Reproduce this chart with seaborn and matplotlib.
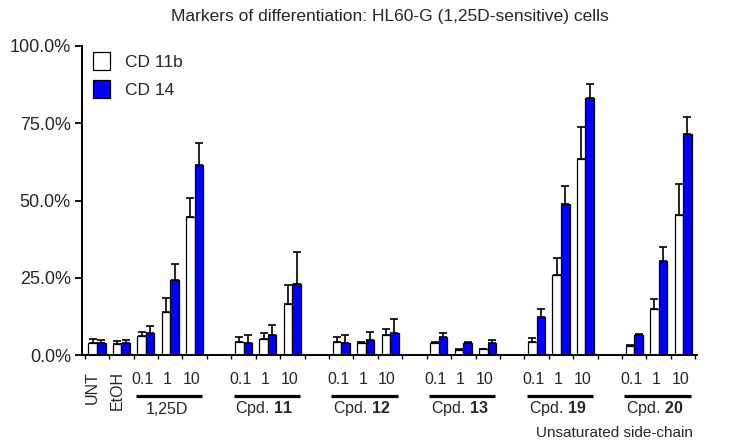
import numpy as np
import pandas as pd
import matplotlib
matplotlib.use("Agg")
import matplotlib.pyplot as plt
import matplotlib.transforms as mtrans
import seaborn as sns

# ---------------- data ----------------
title = "Markers of differentiation: HL60-G (1,25D-sensitive) cells"
slot_order = ["UNT", "EtOH",
              "1,25D 0.1", "1,25D 1", "1,25D 10", "gap1",
              "11 0.1", "11 1", "11 10", "gap2",
              "12 0.1", "12 1", "12 10", "gap3",
              "13 0.1", "13 1", "13 10", "gap4",
              "19 0.1", "19 1", "19 10", "gap5",
              "20 0.1", "20 1", "20 10"]
bar_slots = [s for s in slot_order if not s.startswith("gap")]
slot_labels = ["UNT", "EtOH"] + ["0.1", "1", "10"] * 6
groups = ["1,25D", "11", "12", "13", "19", "20"]
group_slots = [["1,25D 0.1", "1,25D 10"], ["11 0.1", "11 10"], ["12 0.1", "12 10"],
               ["13 0.1", "13 10"], ["19 0.1", "19 10"], ["20 0.1", "20 10"]]
markers = ["CD 11b", "CD 14"]

cd11b = [4.0, 3.5, 6.1, 13.8, 44.8,
         4.2, 5.3, 16.4,
         4.3, 3.8, 6.5,
         3.8, 1.6, 1.8,
         4.3, 25.9, 63.3,
         2.9, 14.8, 45.3]
cd11b_err = [1.3, 0.9, 1.3, 4.5, 5.9,
             1.5, 1.7, 6.3,
             1.4, 0.5, 1.8,
             0.4, 0.3, 0.3,
             1.1, 5.4, 10.4,
             0.3, 3.2, 10.0]
cd14 = [3.8, 4.0, 7.0, 24.3, 61.5,
        3.8, 6.6, 22.9,
        3.8, 4.9, 7.0,
        5.7, 3.8, 3.8,
        12.4, 48.9, 83.1,
        6.5, 30.5, 71.5]
cd14_err = [1.1, 0.8, 2.4, 5.1, 7.2,
            2.8, 3.1, 10.3,
            2.8, 2.5, 4.5,
            1.3, 0.3, 1.1,
            2.4, 5.8, 4.6,
            0.2, 4.5, 5.4]

df = pd.DataFrame({
    "slot": bar_slots * 2,
    "marker": [markers[0]] * len(bar_slots) + [markers[1]] * len(bar_slots),
    "value": cd11b + cd14,
    "err": cd11b_err + cd14_err,
})

# ---------------- style ----------------
sns.set_style("ticks")
plt.rcParams["font.family"] = ["Liberation Sans", "DejaVu Sans"]
plt.rcParams["mathtext.fontset"] = "custom"
plt.rcParams["mathtext.rm"] = "Liberation Sans"
plt.rcParams["mathtext.bf"] = "Liberation Sans:bold"

fig = plt.figure(figsize=(7.5, 4.47), dpi=100)
ax = fig.add_axes([82 / 750, 1 - 355 / 447, 615 / 750, 309 / 447])

sns.barplot(data=df, x="slot", y="value", hue="marker", order=slot_order,
            hue_order=markers, palette=["white", "#0000FF"], width=0.7,
            errorbar=None, edgecolor="black", linewidth=0.9, saturation=1,
            legend=True, ax=ax)

# error bars (upper only), positioned on the drawn bars
for cont, mk in zip(ax.containers, markers):
    sub = df[df.marker == mk].set_index("slot")
    for bar in cont:
        xc = bar.get_x() + bar.get_width() / 2
        slot = slot_order[int(round(xc))]
        v = sub.loc[slot, "value"]
        e = sub.loc[slot, "err"]
        ax.errorbar([xc], [v], yerr=[[0], [e]], fmt="none", ecolor="black",
                    elinewidth=1.2, capsize=3.2, capthick=1.2, zorder=1)

ax.set_ylim(0, 100)
ax.set_xlim(-0.615, 24.57)
ax.set_yticks([0, 25, 50, 75, 100])
ax.set_yticklabels([f"{t:.1f}%" for t in [0, 25, 50, 75, 100]], fontsize=13)
ax.set_xticks(np.arange(-0.5, 25, 1.0))
ax.set_xticklabels([])
ax.tick_params(axis="x", length=3, width=1, direction="out", color="black")
ax.tick_params(axis="y", length=5, width=1.3, pad=3, color="black")
ax.set_xlabel("")
ax.set_ylabel("")
for s in ["top", "right"]:
    ax.spines[s].set_visible(False)
for s in ["left", "bottom"]:
    ax.spines[s].set_linewidth(1.4)
    ax.spines[s].set_color("black")

# legend
h, l = ax.get_legend_handles_labels()
ax.legend(h, l, loc="upper left", bbox_to_anchor=(93 / 750, 1 - 52 / 447),
          bbox_transform=fig.transFigure, frameon=False, fontsize=12.5,
          handlelength=1.0, handleheight=1.25, labelspacing=0.55,
          handletextpad=0.85, borderpad=0, borderaxespad=0)

# title
fig.text(390 / 750, 1 - 17 / 447, title, ha="center", va="center", fontsize=12.5)

# category labels
tr = mtrans.blended_transform_factory(ax.transData, fig.transFigure)
for slot, lab in zip(bar_slots, slot_labels):
    xi = slot_order.index(slot)
    if lab in ("UNT", "EtOH"):
        ax.text(xi - 0.19, 1 - 371 / 447, lab, rotation=90, ha="center", va="top",
                fontsize=11.5, transform=tr)
    else:
        ax.text(xi - 0.12, 1 - 380 / 447, lab, ha="center", va="center",
                fontsize=11.5, transform=tr)

for g, (a, b) in zip(groups, group_slots):
    x0 = slot_order.index(a) - 0.41
    x1 = slot_order.index(b) + 0.31
    ax.plot([x0, x1], [1 - 395.5 / 447] * 2, color="black", lw=2.3,
            transform=tr, clip_on=False, solid_capstyle="butt")
    lab = g if g == "1,25D" else r"Cpd. $\mathbf{" + g + "}$"
    ax.text((x0 + x1) / 2 - 0.1, 1 - 409 / 447, lab, ha="center", va="center",
            fontsize=11.5, transform=tr)

fig.text(614 / 750, 1 - 433 / 447, "Unsaturated side-chain", ha="center",
         va="center", fontsize=11)

fig.savefig("out.png", dpi=100)
